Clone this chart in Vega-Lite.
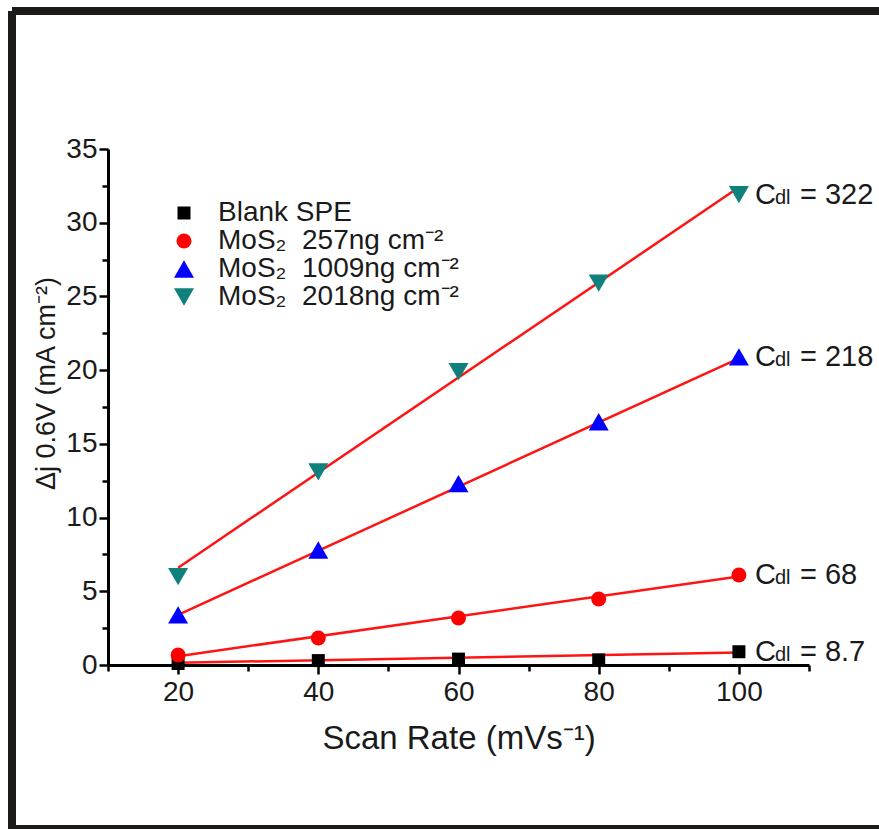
{
  "$schema": "https://vega.github.io/schema/vega-lite/v6.json",
  "autosize": {"type": "none"},
  "padding": {"left": 12, "top": 11, "right": 0, "bottom": 0},
  "width": 867,
  "height": 818,
  "background": "white",
  "config": {
    "view": {"stroke": "#1e1a18", "strokeWidth": 8, "strokeDash": [867, 818, 1685, 0]},
    "font": "Liberation Sans",
    "legend": {
      "orient": "none", "legendX": 158, "legendY": 188, "title": null,
      "labelFontSize": 28, "labelFont": "Liberation Sans", "labelColor": "#1a1a1a",
      "padding": 0, "rowPadding": 0, "labelOffset": 20, "labelLimit": 500,
      "symbolStrokeWidth": 0, "symbolOpacity": 1
    }
  },
  "encoding": {
    "x": {
      "field": "x", "type": "quantitative",
      "scale": {"domain": [10, 110], "range": [96, 797], "nice": false, "zero": false},
      "axis": {
        "orient": "bottom", "offset": -164, "title": "Scan Rate (mVs⁻¹)",
        "values": [10, 20, 30, 40, 50, 60, 70, 80, 90, 100, 110],
        "labelExpr": "datum.value % 20 === 0 ? datum.label : ''",
        "grid": false, "domainColor": "#000", "domainWidth": 3,
        "tickColor": "#000", "tickWidth": 2.5,
        "tickSize": {"condition": {"test": "datum.value % 20 === 0", "value": 9}, "value": 6},
        "labelFontSize": 28, "labelFont": "Liberation Sans", "labelColor": "#1a1a1a", "labelPadding": 4,
        "labelOverlap": false, "labelFlush": false,
        "titleFontSize": 33, "titleFont": "Liberation Sans", "titleFontWeight": "normal", "titleColor": "#1a1a1a", "titlePadding": 16
      }
    },
    "y": {
      "field": "y", "type": "quantitative",
      "scale": {"domain": [0, 35], "range": [654, 138], "nice": false, "zero": false},
      "axis": {
        "orient": "left", "offset": -96, "title": "Δj 0.6V (mA cm⁻²)",
        "values": [0, 2.5, 5, 7.5, 10, 12.5, 15, 17.5, 20, 22.5, 25, 27.5, 30, 32.5, 35],
        "labelExpr": "datum.value % 5 === 0 ? datum.label : ''",
        "grid": false, "domainColor": "#000", "domainWidth": 3,
        "tickColor": "#000", "tickWidth": 2.5,
        "tickSize": {"condition": {"test": "datum.value % 5 === 0", "value": 9}, "value": 6},
        "labelFontSize": 28, "labelFont": "Liberation Sans", "labelColor": "#1a1a1a", "labelPadding": 2,
        "labelOverlap": false, "labelFlush": false,
        "titleFontSize": 27, "titleFont": "Liberation Sans", "titleFontWeight": "normal", "titleColor": "#1a1a1a", "titlePadding": 5,
        "titleY": 372
      }
    }
  },
  "layer": [
    {
      "data": {"values": [
        {"series": "Blank SPE", "x": 20, "y": 0.15},
        {"series": "Blank SPE", "x": 100, "y": 0.85},
        {"series": "257", "x": 20, "y": 0.6},
        {"series": "257", "x": 100, "y": 6.0},
        {"series": "1009", "x": 20, "y": 3.4},
        {"series": "1009", "x": 100, "y": 20.8},
        {"series": "2018", "x": 20, "y": 6.6},
        {"series": "2018", "x": 100, "y": 32.4}
      ]},
      "mark": {"type": "line", "color": "#ff1414", "strokeWidth": 2.5},
      "encoding": {"detail": {"field": "series"}}
    },
    {
      "data": {"values": [
        {"series": "Blank SPE", "x": 20, "y": 0.1},
        {"series": "Blank SPE", "x": 40, "y": 0.3},
        {"series": "Blank SPE", "x": 60, "y": 0.4},
        {"series": "Blank SPE", "x": 80, "y": 0.35},
        {"series": "Blank SPE", "x": 100, "y": 0.9},
        {"series": "MoS₂\u00a0 257ng cm⁻²", "x": 20, "y": 0.68},
        {"series": "MoS₂\u00a0 257ng cm⁻²", "x": 40, "y": 1.83},
        {"series": "MoS₂\u00a0 257ng cm⁻²", "x": 60, "y": 3.19},
        {"series": "MoS₂\u00a0 257ng cm⁻²", "x": 80, "y": 4.48},
        {"series": "MoS₂\u00a0 257ng cm⁻²", "x": 100, "y": 6.1},
        {"series": "MoS₂\u00a0 1009ng cm⁻²", "x": 20, "y": 3.4},
        {"series": "MoS₂\u00a0 1009ng cm⁻²", "x": 40, "y": 7.8},
        {"series": "MoS₂\u00a0 1009ng cm⁻²", "x": 60, "y": 12.3},
        {"series": "MoS₂\u00a0 1009ng cm⁻²", "x": 80, "y": 16.5},
        {"series": "MoS₂\u00a0 1009ng cm⁻²", "x": 100, "y": 20.9},
        {"series": "MoS₂\u00a0 2018ng cm⁻²", "x": 20, "y": 6.0},
        {"series": "MoS₂\u00a0 2018ng cm⁻²", "x": 40, "y": 13.1},
        {"series": "MoS₂\u00a0 2018ng cm⁻²", "x": 60, "y": 19.9},
        {"series": "MoS₂\u00a0 2018ng cm⁻²", "x": 80, "y": 25.9},
        {"series": "MoS₂\u00a0 2018ng cm⁻²", "x": 100, "y": 31.9}
      ]},
      "mark": {"type": "point", "filled": true, "opacity": 1, "strokeWidth": 0},
      "encoding": {
        "color": {"field": "series", "type": "nominal",
          "scale": {"domain": ["Blank SPE", "MoS₂\u00a0 257ng cm⁻²", "MoS₂\u00a0 1009ng cm⁻²", "MoS₂\u00a0 2018ng cm⁻²"],
                    "range": ["#000000", "#ff0000", "#0000ff", "#0f807c"]}},
        "shape": {"field": "series", "type": "nominal",
          "scale": {"domain": ["Blank SPE", "MoS₂\u00a0 257ng cm⁻²", "MoS₂\u00a0 1009ng cm⁻²", "MoS₂\u00a0 2018ng cm⁻²"],
                    "range": ["square", "circle", "triangle-up", "triangle-down"]}},
        "size": {"field": "series", "type": "nominal",
          "scale": {"type": "ordinal", "domain": ["Blank SPE", "MoS₂\u00a0 257ng cm⁻²", "MoS₂\u00a0 1009ng cm⁻²", "MoS₂\u00a0 2018ng cm⁻²"],
                    "range": [169, 225, 400, 400]}}
      }
    },
    {
      "data": {"name": "labels", "values": [
        {"x": 100, "y": 31.9, "c": "C", "sub": "dl", "v": "= 322"},
        {"x": 100, "y": 20.9, "c": "C", "sub": "dl", "v": "= 218"},
        {"x": 100, "y": 6.1, "c": "C", "sub": "dl", "v": "= 68"},
        {"x": 100, "y": 0.9, "c": "C", "sub": "dl", "v": "= 8.7"}
      ]},
      "layer": [
        {"mark": {"type": "text", "align": "left", "baseline": "alphabetic", "dx": 16, "dy": 9, "fontSize": 29, "font": "Liberation Sans", "color": "#1a1a1a"},
         "encoding": {"text": {"field": "c"}}},
        {"mark": {"type": "text", "align": "left", "baseline": "alphabetic", "dx": 36, "dy": 9, "fontSize": 20, "font": "Liberation Sans", "color": "#1a1a1a"},
         "encoding": {"text": {"field": "sub"}}},
        {"mark": {"type": "text", "align": "left", "baseline": "alphabetic", "dx": 61, "dy": 9, "fontSize": 29, "font": "Liberation Sans", "color": "#1a1a1a"},
         "encoding": {"text": {"field": "v"}}}
      ]
    }
  ]
}
